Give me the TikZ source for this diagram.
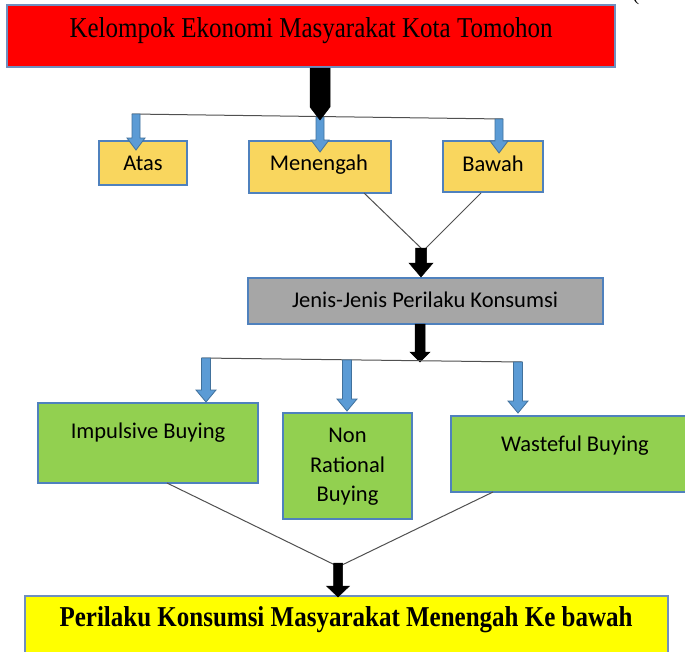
\documentclass[tikz,border=0pt]{standalone}
\usepackage{fontspec}
\usepackage{graphicx}
\setmainfont{Liberation Serif}
\newfontfamily\calib{Carlito}
\usetikzlibrary{calc}
\definecolor{redfill}{HTML}{FF0000}
\definecolor{edgeblue}{HTML}{6F8FBF}
\definecolor{boxblue}{HTML}{4F81BD}
\definecolor{goldfill}{HTML}{F9D65E}
\definecolor{grayfill}{HTML}{A6A6A6}
\definecolor{greenfill}{HTML}{92D050}
\definecolor{yellowfill}{HTML}{FFFF00}
\definecolor{arrowfill}{HTML}{5B9BD5}
\definecolor{arrowedge}{HTML}{41719C}
\definecolor{linegray}{HTML}{505050}
\newcommand{\blockarrow}[6]{%
  \path[#1] let \p1=(#2), \p2=(#3) in
    (\x1-#4,\y1) -- (\x1-#4,\y2+#6) -- (\x1-#5,\y2+#6) -- (\x1,\y2)
    -- (\x1+#5,\y2+#6) -- (\x1+#4,\y2+#6) -- (\x1+#4,\y1) -- cycle;}
\tikzset{
  box/.style={draw=boxblue, line width=1.5pt, inner sep=0pt},
  sanstext/.style={font=\calib\fontsize{22.5}{29.5}\selectfont, align=center, inner sep=0pt},
  seriftext/.style={font=\fontsize{25}{30}\selectfont, inner sep=0pt},
  thinline/.style={draw=linegray, line width=1pt},
  bluearrow/.style={fill=arrowfill, draw=arrowedge, line width=0.8pt},
  blackarrow/.style={fill=black, draw=black, line width=0.5pt, line join=miter}
}
\begin{document}
\begin{tikzpicture}[x=1pt,y=-1pt]
\useasboundingbox (0,0) rectangle (685,651);
\fill[white] (0,0) rectangle (685,651);

% stray mark at top right
\node[font=\fontsize{20}{24}\selectfont, anchor=base, inner sep=0pt] (paren) at (636,0) {(};

% boxes
\node[box, draw=edgeblue, line width=2pt, fill=redfill, minimum width=608pt, minimum height=62pt] (red) at (311,36) {};
\node[seriftext] (redt) at (311,31) {\scalebox{1}[1.15]{Kelompok Ekonomi Masyarakat Kota Tomohon}};

\node[box, fill=goldfill, minimum width=88pt, minimum height=44pt] (atas) at (143,163) {};
\node[sanstext] (atast) at (143,163) {Atas};
\node[box, fill=goldfill, minimum width=142pt, minimum height=52pt] (men) at (320,167) {};
\node[sanstext] (ment) at (319,165) {Menengah};
\node[box, fill=goldfill, minimum width=100pt, minimum height=51pt] (baw) at (493,166.5) {};
\node[sanstext] (bawt) at (493,164) {Bawah};

\node[box, fill=grayfill, minimum width=355pt, minimum height=46pt] (jenis) at (425.5,301) {};
\node[sanstext] (jenist) at (425,300) {Jenis-Jenis Perilaku Konsumsi};

\node[box, fill=greenfill, minimum width=220pt, minimum height=80pt] (imp) at (148,443) {};
\node[sanstext] (impt) at (148,433) {Impulsive Buying};
\node[box, fill=greenfill, minimum width=129pt, minimum height=106pt] (non) at (347.5,466) {};
\node[sanstext] (nont) at (347.5,467) {Non\\Rational\\Buying};
\node[box, fill=greenfill, minimum width=269pt, minimum height=76pt] (was) at (585.5,454) {};
\node[sanstext] (wast) at (575,446) {Wasteful Buying};

\node[box, draw=edgeblue, line width=2pt, fill=yellowfill, minimum width=643pt, minimum height=84pt] (hasil) at (346.5,638) {};
\node[seriftext, font=\bfseries\fontsize{25}{30}\selectfont] (hasilt) at (346,620) {\scalebox{1}[1.15]{Perilaku Konsumsi Masyarakat Menengah Ke bawah}};

% junction coordinates
\coordinate (h1a) at (132,114);
\coordinate (h1b) at (503,119);
\coordinate (j1) at (320,117);
\coordinate (k1) at (320,120);
\coordinate (a1) at (136,114);
\coordinate (a1t) at (136,150);
\coordinate (a2t) at (320,152);
\coordinate (a3) at (499,119);
\coordinate (a3t) at (499,153);

\coordinate (m1) at (364,193);
\coordinate (b1) at (481,193);
\coordinate (v1) at (422,249);
\coordinate (v1b) at (425,249);
\coordinate (k2) at (421,248);
\coordinate (k2t) at (421,277);

\coordinate (k3) at (420,324);
\coordinate (k3t) at (420,362);
\coordinate (h2a) at (202,358);
\coordinate (h2b) at (522,362);
\coordinate (c1) at (206,358);
\coordinate (c1t) at (206,402);
\coordinate (c2) at (347,360);
\coordinate (c2t) at (347,411);
\coordinate (c3) at (518,362);
\coordinate (c3t) at (518,413);

\coordinate (i1) at (167,483);
\coordinate (w1) at (493,492);
\coordinate (v2) at (335,565);
\coordinate (v2b) at (342,565);
\coordinate (k4) at (338,563);
\coordinate (k4t) at (338,597);

% first level
\draw[thinline] (h1a) -- (h1b);
\blockarrow{bluearrow}{a1}{a1t}{4pt}{9pt}{12pt}
\blockarrow{bluearrow}{j1}{a2t}{4pt}{9pt}{12pt}
\blockarrow{bluearrow}{a3}{a3t}{4pt}{9pt}{12pt}
\blockarrow{blackarrow}{red.south -| k1}{k1}{10pt}{10pt}{13pt}

% second level
\draw[thinline] (m1) -- (v1);
\draw[thinline] (b1) -- (v1b);
\blockarrow{blackarrow}{k2}{k2t}{5.5pt}{12pt}{14pt}

% third level
\blockarrow{blackarrow}{k3}{k3t}{5pt}{10pt}{10pt}
\draw[thinline] (h2a) -- (h2b);
\blockarrow{bluearrow}{c1}{c1t}{4.5pt}{10pt}{12pt}
\blockarrow{bluearrow}{c2}{c2t}{4.5pt}{10pt}{12pt}
\blockarrow{bluearrow}{c3}{c3t}{4.5pt}{10pt}{12pt}

% fourth level
\draw[thinline] (i1) -- (v2);
\draw[thinline] (w1) -- (v2b);
\blockarrow{blackarrow}{k4}{k4t}{4.5pt}{11.5pt}{11pt}
\end{tikzpicture}
\end{document}
